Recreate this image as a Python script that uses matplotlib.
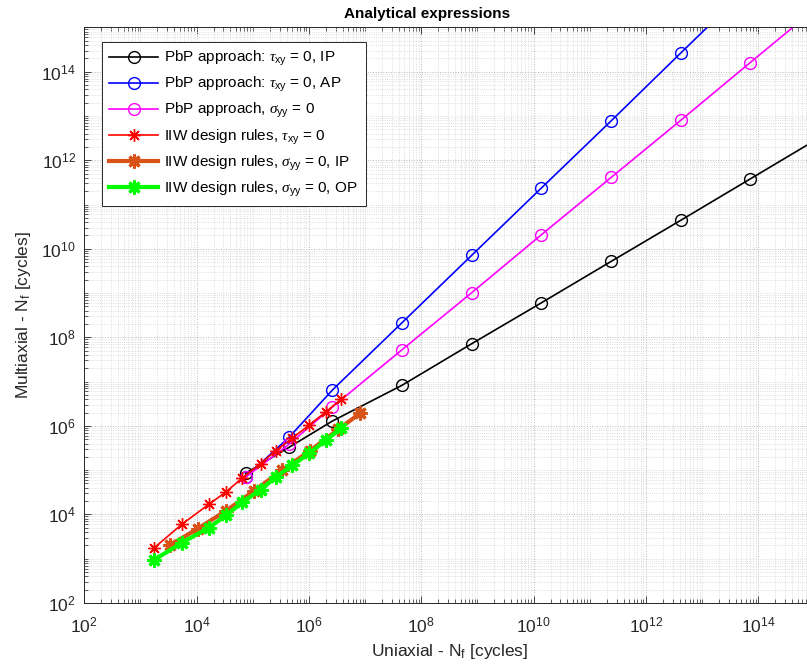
import numpy as np
import matplotlib
matplotlib.use("Agg")
import matplotlib.pyplot as plt
from matplotlib.ticker import LogLocator, FixedLocator, NullFormatter

plt.rcParams['font.family'] = ['Liberation Sans', 'DejaVu Sans']
plt.rcParams['mathtext.fontset'] = 'custom'
plt.rcParams['mathtext.rm'] = 'Liberation Sans'
plt.rcParams['mathtext.it'] = 'Liberation Serif:italic'

# log10 of cycles to failure: uniaxial (x) vs multiaxial (y)
pbp_x = [4.87, 5.645, 6.417, 7.656, 8.897, 10.131, 11.382, 12.618, 13.852, 15.09]
pbp_ip_y = [4.929, 5.516, 6.110, 6.917, 7.856, 8.775, 9.717, 10.643, 11.575, 12.51]
pbp_ap_y = [4.845, 5.742, 6.810, 8.330, 9.852, 11.365, 12.892, 14.421, 15.94, 17.45]
pbp_syy_y = [4.839, 5.586, 6.426, 7.720, 9.008, 10.311, 11.614, 12.901, 14.202, 15.50]

iiw_x = [3.241, 3.739, 4.220, 4.528, 4.815, 5.137, 5.408, 5.703, 6.006, 6.303, 6.570]
iiw_txy_y = [3.242, 3.780, 4.231, 4.514, 4.827, 5.148, 5.439, 5.726, 6.020, 6.320, 6.600]
iiw_op_y = [2.971, 3.362, 3.701, 3.987, 4.274, 4.559, 4.839, 5.110, 5.381, 5.681, 5.945]

iiw_ip_x = [3.53, 4.02, 4.52, 5.02, 5.52, 6.02, 6.52, 6.91]
iiw_ip_y = [3.31, 3.68, 4.08, 4.53, 5.00, 5.44, 5.92, 6.284]

labels = [
    r'PbP approach: $\tau_{\rm xy}$ = 0, IP',
    r'PbP approach: $\tau_{\rm xy}$ = 0, AP',
    r'PbP approach, $\sigma_{\rm yy}$ = 0',
    r'IIW design rules, $\tau_{\rm xy}$ = 0',
    r'IIW design rules, $\sigma_{\rm yy}$ = 0, IP',
    r'IIW design rules, $\sigma_{\rm yy}$ = 0, OP',
]

W, H = 807, 666
fig = plt.figure(figsize=(W / 100, H / 100), dpi=100)
left, bottom, top = 84.3, 603.0, 27.4
right = 84.3 + 13 * 56.17
ax = fig.add_axes([left / W, (H - bottom) / H, (right - left) / W, (bottom - top) / H])

p = lambda v: 10.0 ** np.asarray(v, dtype=float)
asterisk = (8, 2, 0)
circ = dict(marker='o', markersize=8.5, markerfacecolor='none', markeredgewidth=1.0, linewidth=1.2)
ax.plot(p(pbp_x), p(pbp_ip_y), color='black', label=labels[0], **circ)
ax.plot(p(pbp_x), p(pbp_ap_y), color='#0000FF', label=labels[1], **circ)
ax.plot(p(pbp_x), p(pbp_syy_y), color='#FF00FF', label=labels[2], **circ)
ax.plot(p(iiw_x), p(iiw_txy_y), color='#FF0000', marker=asterisk, markersize=9,
        markeredgewidth=1.0, linewidth=1.2, label=labels[3])
ax.plot(p(iiw_ip_x), p(iiw_ip_y), color='#D95319', marker=asterisk, markersize=10,
        markeredgewidth=2.2, linewidth=3.0, label=labels[4])
ax.plot(p(iiw_x), p(iiw_op_y), color='#00FF00', marker=asterisk, markersize=10,
        markeredgewidth=2.2, linewidth=3.0, label=labels[5])

ax.set_xscale('log')
ax.set_yscale('log')
ax.set_xlim(1e2, 1e15)
ax.set_ylim(1e2, 1e15)

major = [10.0 ** k for k in range(2, 16, 2)]
ax.xaxis.set_major_locator(FixedLocator(major))
ax.yaxis.set_major_locator(FixedLocator(major))
ax.xaxis.set_minor_locator(LogLocator(base=10, subs=np.arange(1, 10), numticks=100))
ax.yaxis.set_minor_locator(LogLocator(base=10, subs=np.arange(1, 10), numticks=100))
ax.xaxis.set_minor_formatter(NullFormatter())
ax.yaxis.set_minor_formatter(NullFormatter())

ax.tick_params(which='both', direction='in', top=True, right=True, labelsize=12.5,
               color='#262626', labelcolor='#262626')
ax.tick_params(axis='x', which='major', pad=9)
ax.tick_params(axis='y', which='major', pad=6)
ax.tick_params(which='major', length=5, width=0.6)
ax.tick_params(which='minor', length=3, width=0.5)
ax.grid(True, which='major', linestyle=':', color='#b8b8b8', linewidth=0.7)
ax.grid(True, which='minor', linestyle=':', color='#d4d4d4', linewidth=0.6)
ax.set_axisbelow(True)
for s in ax.spines.values():
    s.set_color('#262626')
    s.set_linewidth(0.7)

ax.set_xlabel(r'Uniaxial - N$_{\rm f}$ [cycles]', fontsize=12.5, color='#262626', labelpad=5)
ax.set_ylabel(r'Multiaxial - N$_{\rm f}$ [cycles]', fontsize=12.5, color='#262626', labelpad=6)
ax.set_title('Analytical expressions', fontsize=11, fontweight='bold', pad=7,
             x=(427 - left) / (right - left))

leg = ax.legend(loc='upper left', bbox_to_anchor=(0.024, 0.975), borderaxespad=0,
                fontsize=11, fancybox=False, framealpha=1, edgecolor='#262626',
                labelspacing=0.46, handlelength=3.2, handletextpad=0.4, borderpad=0.5)
leg.get_frame().set_linewidth(0.7)

fig.savefig('out.png', dpi=100)
